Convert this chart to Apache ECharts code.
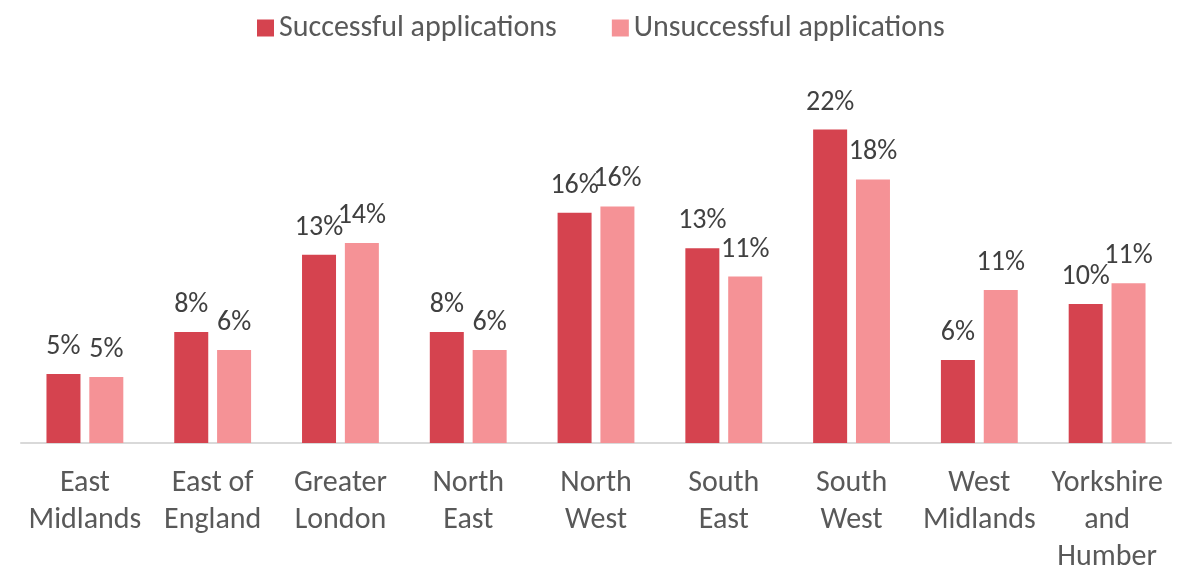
<!DOCTYPE html>
<html>
<head>
<meta charset="utf-8">
<script src="https://cdn.jsdelivr.net/npm/echarts@6/dist/echarts.min.js"></script>
<style>
  html, body { margin: 0; padding: 0; background: #fff; }
  #main { width: 1192px; height: 572px; }
</style>
</head>
<body>
<div id="main"></div>
<script>
var regions = ['East\nMidlands', 'East of\nEngland', 'Greater\nLondon', 'North\nEast', 'North\nWest', 'South\nEast', 'South\nWest', 'West\nMidlands', 'Yorkshire\nand\nHumber'];
var successful = [4.75, 7.65, 12.96, 7.65, 15.85, 13.41, 21.59, 5.72, 9.58];
var unsuccessful = [4.55, 6.41, 13.78, 6.41, 16.29, 11.46, 18.15, 10.54, 11.0];
var seriesNames = ['Successful applications', 'Unsuccessful applications'];

var font = 'Carlito, Calibri, "Liberation Sans Narrow", "Open Sans", sans-serif';
var chart = echarts.init(document.getElementById('main'));

var barLabel = {
    show: true,
    position: 'top',
    distance: 13,
    color: '#404040',
    fontFamily: font,
    fontSize: 28,
    formatter: function (p) { return Math.round(p.value) + '%'; }
};

var option = {
    animation: false,
    legend: {
        top: 8,
        left: 252,
        itemWidth: 17,
        itemHeight: 17,
        itemGap: 55,
        icon: 'rect',
        textStyle: { color: '#595959', fontFamily: font, fontSize: 30 },
        data: seriesNames
    },
    grid: { left: 21, right: 21, top: 80, bottom: 129, outerBoundsMode: 'none' },
    xAxis: {
        type: 'category',
        data: regions,
        axisTick: { show: false },
        axisLine: { lineStyle: { color: '#d9d9d9', width: 2 } },
        axisLabel: {
            color: '#595959',
            fontFamily: font,
            fontSize: 30,
            lineHeight: 37,
            margin: 22,
            interval: 0
        }
    },
    yAxis: {
        type: 'value',
        min: 0,
        max: 25,
        show: false
    },
    series: [{
        name: seriesNames[0],
        type: 'bar',
        data: successful,
        barWidth: 34,
        barGap: '26%',
        itemStyle: { color: '#d5434f' },
        label: barLabel
    }, {
        name: seriesNames[1],
        type: 'bar',
        data: unsuccessful,
        barWidth: 34,
        itemStyle: { color: '#f59296' },
        label: barLabel
    }]
};
chart.setOption(option);
window.onresize = chart.resize;
</script>
</body>
</html>
